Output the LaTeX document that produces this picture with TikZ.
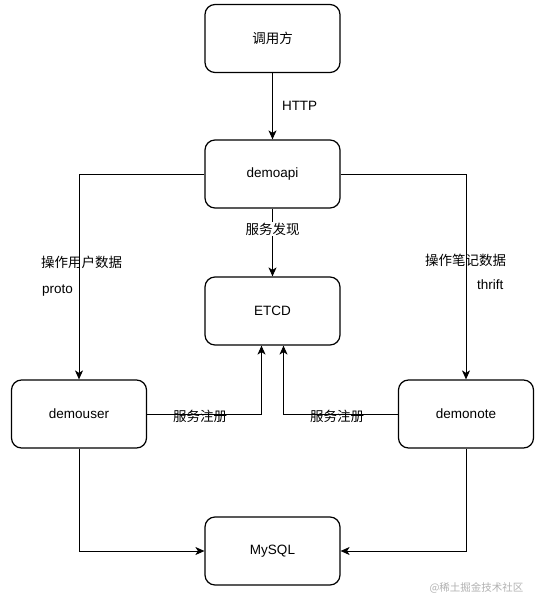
\documentclass[tikz,border=0pt]{standalone}
\usepackage{fontspec}
\setmainfont{Liberation Sans}
\newfontfamily\cjk{Noto Sans CJK SC}
\usetikzlibrary{arrows.meta}
\begin{document}
\begin{tikzpicture}[x=1pt,y=-1pt,
  box/.style={draw,line width=1.2pt,rounded corners=10pt,minimum width=135pt,minimum height=68pt,font=\fontsize{13.5}{16}\selectfont,inner sep=0pt},
  conn/.style={line width=1pt,-{Stealth[length=9pt,width=8pt,inset=2.5pt]}},
  lbl/.style={font=\fontsize{13.5}{16}\selectfont,inner sep=1pt}]
\useasboundingbox (0,0) rectangle (541,602);
\fill[white] (0,0) rectangle (541,602);
\node[box] (caller) at (272.5,38.5) {\cjk 调用方};
\node[box] (api) at (272.5,174) {demoapi};
\node[box] (etcd) at (272.5,311) {ETCD};
\node[box] (user) at (79,414) {demouser};
\node[box] (note) at (466,414) {demonote};
\node[box] (mysql) at (272.5,551) {MySQL};
\draw[conn] (caller) -- (api) node[lbl,midway,right=8pt] {HTTP};
\draw[conn] (api) -- (etcd) node[lbl,pos=0.3,fill=white] {\cjk 服务发现};
\draw[conn] (api.west) -| (user.north);
\draw[conn] (api.east) -| (note.north);
\node[lbl,anchor=west] (l1) at (40,262) {\cjk 操作用户数据};
\node[lbl,anchor=west] (l2) at (41,291) {proto};
\node[lbl,anchor=west] (l3) at (424,260) {\cjk 操作笔记数据};
\node[lbl,anchor=west] (l4) at (476,285) {thrift};
\draw[conn] (user.east) -| ([xshift=-11pt]etcd.south);
\draw[conn] (note.west) -| ([xshift=11pt]etcd.south);
\node[lbl] (r1) at (200,416) {\cjk 服务注册};
\node[lbl] (r2) at (337,416) {\cjk 服务注册};
\draw[conn] (user.south) |- (mysql.west);
\draw[conn] (note.south) |- (mysql.east);
\node[font=\fontsize{10.5}{12}\selectfont,text=black!30,anchor=east] (wm) at (527,588) {\cjk @稀土掘金技术社区};
\end{tikzpicture}
\end{document}
